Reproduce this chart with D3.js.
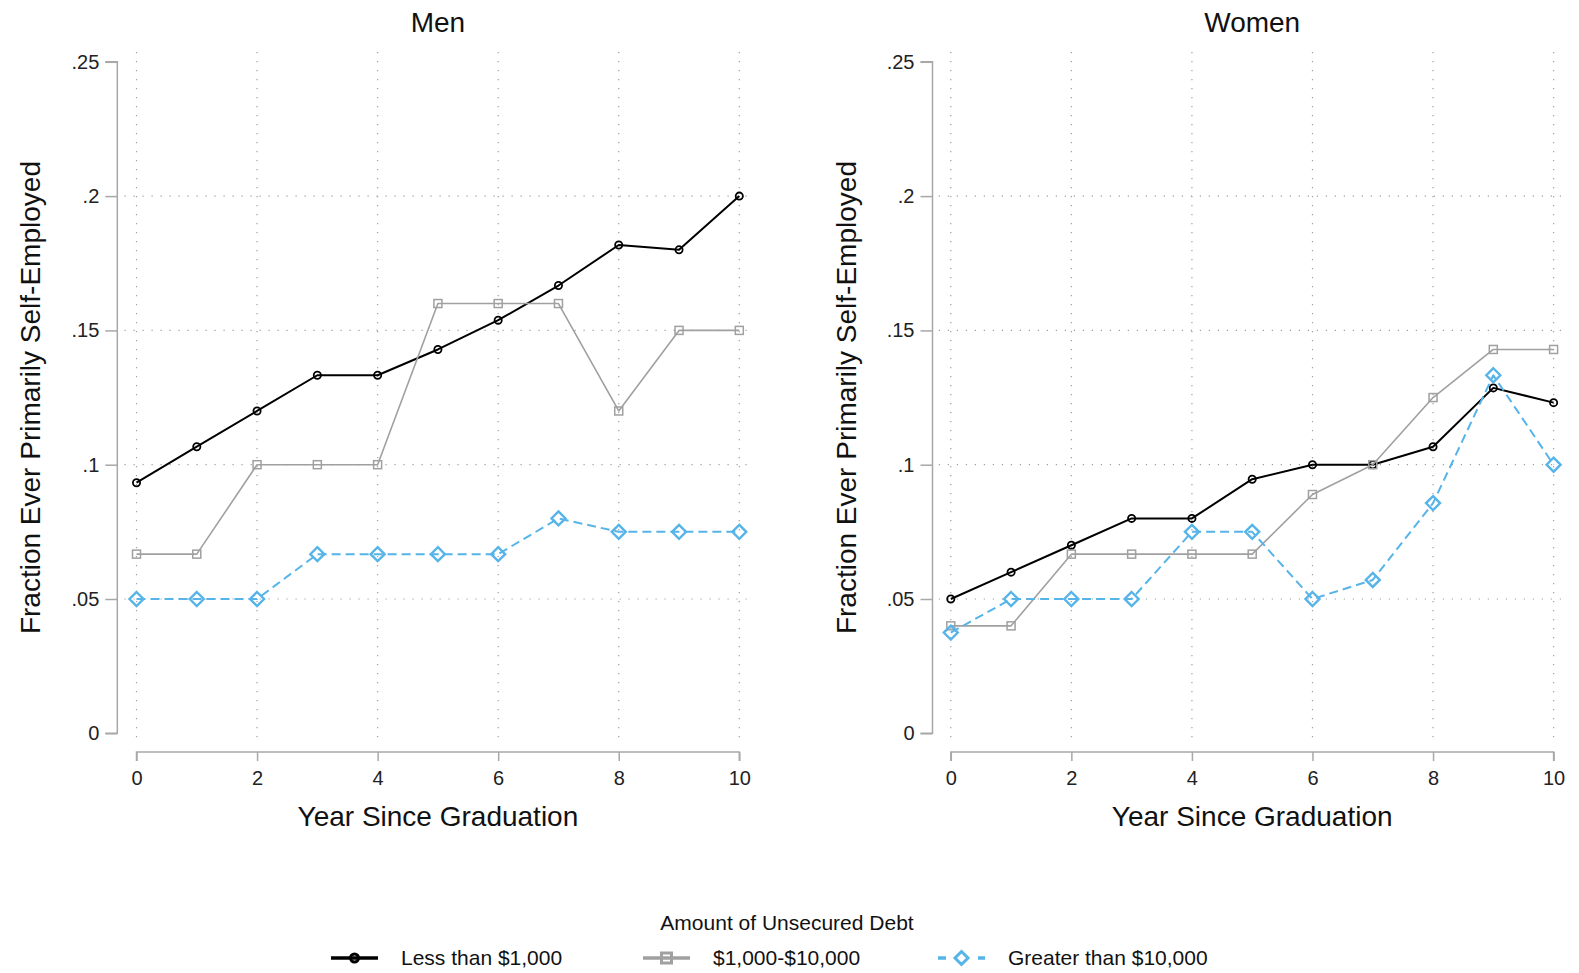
<!DOCTYPE html>
<html>
<head>
<meta charset="utf-8">
<script src="https://cdn.jsdelivr.net/npm/d3@7"></script>
<style>
  html, body { margin: 0; padding: 0; background: #fff; }
  svg { display: block; font-family: "Liberation Sans", Arial, Helvetica, sans-serif; }
</style>
</head>
<body>
<svg id="chart" width="1579" height="973"></svg>
<script>
// ---- data ----
const years = [0, 1, 2, 3, 4, 5, 6, 7, 8, 9, 10];
const xTicks = [0, 2, 4, 6, 8, 10];
const yTicks = [0, 0.05, 0.1, 0.15, 0.2, 0.25];
const yTickLabels = ["0", ".05", ".1", ".15", ".2", ".25"];
const yGrid = [0.05, 0.1, 0.15, 0.2];
const panelTitles = ["Men", "Women"];
const seriesNames = ["Less than $1,000", "$1,000-$10,000", "Greater than $10,000"];
const legendTitle = "Amount of Unsecured Debt";
const xTitle = "Year Since Graduation";
const yTitle = "Fraction Ever Primarily Self-Employed";

const menLess  = [0.0933, 0.1067, 0.12, 0.1333, 0.1333, 0.1429, 0.1538, 0.1667, 0.1818, 0.18, 0.2];
const menMid   = [0.0667, 0.0667, 0.1, 0.1, 0.1, 0.16, 0.16, 0.16, 0.12, 0.15, 0.15];
const menHigh  = [0.05, 0.05, 0.05, 0.0667, 0.0667, 0.0667, 0.0667, 0.08, 0.075, 0.075, 0.075];
const womenLess = [0.05, 0.06, 0.07, 0.08, 0.08, 0.0946, 0.1, 0.1, 0.1067, 0.1286, 0.1231];
const womenMid  = [0.04, 0.04, 0.0667, 0.0667, 0.0667, 0.0667, 0.0889, 0.1, 0.125, 0.1429, 0.1429];
const womenHigh = [0.0375, 0.05, 0.05, 0.05, 0.075, 0.075, 0.05, 0.0571, 0.0857, 0.1333, 0.1];

// ---- styles ----
const colors = ["#000000", "#a0a0a0", "#56b4e9"];
const lineWidths = [2, 1.6, 2];
const dashes = [null, null, "9,5"];
const axisColor = "#a8a8a8";
const gridColor = "#a0a0a0";

const svg = d3.select("#chart");

const panels = [
  { title: panelTitles[0], data: [menLess, menMid, menHigh], axisX: 117.3, x0: 136.5, x1: 739.3, gl: 124.5, gr: 754 },
  { title: panelTitles[1], data: [womenLess, womenMid, womenHigh], axisX: 932.5, x0: 950.8, x1: 1553.6, gl: 938.8, gr: 1568 }
];

const yScale = d3.scaleLinear().domain([0, 0.25]).range([733.3, 61.8]);
const xAxisY = 752;

function drawMarker(g, type, cx, cy, color, big) {
  if (type === 0) {
    g.append("circle").attr("cx", cx).attr("cy", cy).attr("r", big ? 4 : 3.6)
      .attr("fill", "none").attr("stroke", color).attr("stroke-width", big ? 3 : 1.8);
  } else if (type === 1) {
    const s = big ? 10 : 8;
    g.append("rect").attr("x", cx - s / 2).attr("y", cy - s / 2).attr("width", s).attr("height", s)
      .attr("fill", "none").attr("stroke", color).attr("stroke-width", big ? 3 : 1.5);
  } else {
    const h = big ? 6.5 : 7;
    g.append("path").attr("d", `M${cx},${cy - h}L${cx + h},${cy}L${cx},${cy + h}L${cx - h},${cy}Z`)
      .attr("fill", "none").attr("stroke", color).attr("stroke-width", big ? 3 : 2.4);
  }
}

panels.forEach(p => {
  const x = d3.scaleLinear().domain([0, 10]).range([p.x0, p.x1]);
  const g = svg.append("g");

  // grid
  g.selectAll(".hg").data(yGrid).enter().append("line")
    .attr("x1", p.gl).attr("x2", p.gr)
    .attr("y1", d => yScale(d)).attr("y2", d => yScale(d))
    .attr("stroke", gridColor).attr("stroke-width", 1.2).attr("stroke-dasharray", "1.2,7.8");
  g.selectAll(".vg").data(xTicks).enter().append("line")
    .attr("x1", d => x(d)).attr("x2", d => x(d))
    .attr("y1", 52).attr("y2", 743)
    .attr("stroke", gridColor).attr("stroke-width", 1.2).attr("stroke-dasharray", "1.2,7.8");

  // y axis
  const yAxis = d3.axisLeft(yScale).tickValues(yTicks).tickSize(12).tickPadding(6)
    .tickFormat((d, i) => yTickLabels[i]);
  const ya = g.append("g").attr("transform", `translate(${p.axisX},0)`).call(yAxis);
  ya.select(".domain").attr("stroke", axisColor).attr("stroke-width", 1.5).attr("d", `M-12,${yScale(0.25)}H0V${yScale(0)}H-12`);
  ya.selectAll(".tick line").attr("stroke", axisColor).attr("stroke-width", 1.5);
  ya.selectAll(".tick text").attr("font-size", 20).attr("fill", "#222")
    .attr("font-family", "Liberation Sans, Arial, sans-serif");

  // x axis
  const xAxis = d3.axisBottom(x).tickValues(xTicks).tickSize(9).tickPadding(10).tickFormat(d3.format("d"));
  const xa = g.append("g").attr("transform", `translate(0,${xAxisY})`).call(xAxis);
  xa.select(".domain").attr("stroke", axisColor).attr("stroke-width", 1.5).attr("d", `M${p.x0},9V0H${p.x1}V9`);
  xa.selectAll(".tick line").attr("stroke", axisColor).attr("stroke-width", 1.5);
  xa.selectAll(".tick text").attr("font-size", 20).attr("fill", "#222")
    .attr("font-family", "Liberation Sans, Arial, sans-serif");

  // titles
  g.append("text").attr("x", (p.x0 + p.x1) / 2).attr("y", 32).attr("text-anchor", "middle")
    .attr("font-size", 28).attr("fill", "#111").text(p.title);
  g.append("text").attr("x", (p.x0 + p.x1) / 2).attr("y", 826).attr("text-anchor", "middle")
    .attr("font-size", 28).attr("fill", "#111").text(xTitle);
  g.append("text").attr("transform", `translate(${p.axisX - 77},${(yScale(0) + yScale(0.25)) / 2}) rotate(-90)`)
    .attr("text-anchor", "middle").attr("font-size", 28).attr("fill", "#111").text(yTitle);

  // series
  p.data.forEach((vals, si) => {
    const line = d3.line().x((d, i) => x(years[i])).y(d => yScale(d));
    g.append("path").datum(vals).attr("d", line).attr("fill", "none")
      .attr("stroke", colors[si]).attr("stroke-width", lineWidths[si])
      .attr("stroke-dasharray", dashes[si]).attr("stroke-linejoin", "round");
    const mg = g.append("g");
    vals.forEach((v, i) => drawMarker(mg, si, x(years[i]), yScale(v), colors[si], false));
  });
});

// legend
const lg = svg.append("g");
lg.append("text").attr("x", 787).attr("y", 930).attr("text-anchor", "middle")
  .attr("font-size", 21).attr("fill", "#111").text(legendTitle);
const legendX = [331, 643, 938];
const legendY = 958;
seriesNames.forEach((name, si) => {
  const lx = legendX[si];
  const ln = lg.append("line").attr("x1", lx).attr("x2", lx + 47).attr("y1", legendY).attr("y2", legendY)
    .attr("stroke", colors[si]).attr("stroke-width", 3.3);
  if (si === 2) ln.attr("stroke-dasharray", "8,32,8");
  drawMarker(lg, si, lx + 23.5, legendY, colors[si], true);
  lg.append("text").attr("x", lx + 70).attr("y", 965).attr("font-size", 21).attr("fill", "#111").text(name);
});
</script>
</body>
</html>
